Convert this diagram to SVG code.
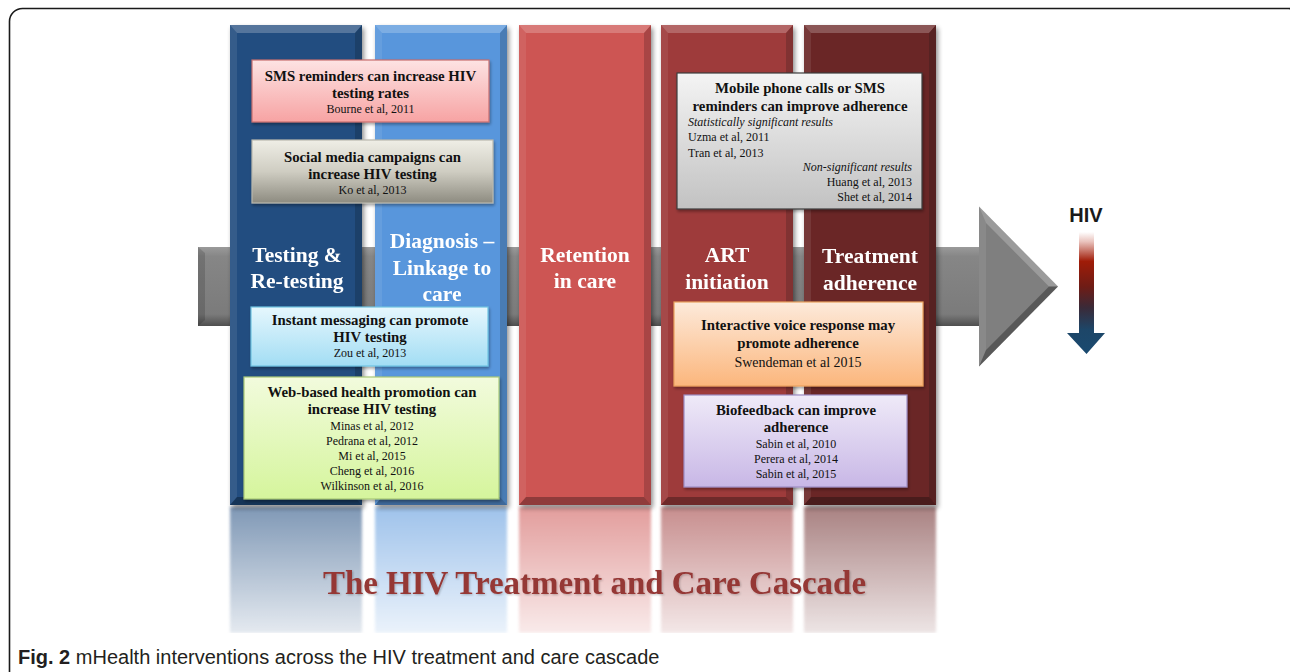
<svg xmlns="http://www.w3.org/2000/svg" width="1290" height="672" viewBox="0 0 1290 672">
  <style>
    .frame { fill: #ffffff; stroke: #1a1a1a; stroke-width: 1.6; }
    .bev-top { fill: #ffffff; opacity: 0.22; }
    .bev-left { fill: #ffffff; opacity: 0.08; }
    .bev-right { fill: #000000; opacity: 0.18; }
    .bev-bot { fill: #000000; opacity: 0.3; }
    .coltitle { font-family: "Liberation Serif", "Times New Roman", serif; font-weight: bold; font-size: 21.5px; fill: #ffffff; text-anchor: middle; }
    .bh { font-family: "Liberation Serif", "Times New Roman", serif; font-weight: bold; font-size: 14.8px; fill: #111111; text-anchor: middle; }
    .cite { font-family: "Liberation Serif", "Times New Roman", serif; font-size: 12px; fill: #111111; text-anchor: middle; }
    .citel { font-family: "Liberation Serif", "Times New Roman", serif; font-size: 12px; fill: #111111; }
    .it { font-family: "Liberation Serif", "Times New Roman", serif; font-style: italic; font-size: 12px; fill: #111111; }
    .box { stroke-width: 1.2; filter: url(#boxshadow); }
    .title { font-family: "Liberation Serif", "Times New Roman", serif; font-weight: bold; font-size: 34px; fill: #953735; text-anchor: middle; }
    .caption { font-family: "Liberation Sans", Arial, sans-serif; font-size: 20px; fill: #231f20; }
  </style>
  <defs>
    <filter id="colshadow" x="-10%" y="-5%" width="125%" height="112%">
      <feGaussianBlur in="SourceAlpha" stdDeviation="2.5"/>
      <feOffset dx="2" dy="3" result="b"/>
      <feComponentTransfer><feFuncA type="linear" slope="0.45"/></feComponentTransfer>
      <feMerge><feMergeNode/><feMergeNode in="SourceGraphic"/></feMerge>
    </filter>
    <filter id="boxshadow" x="-5%" y="-10%" width="112%" height="125%">
      <feGaussianBlur in="SourceAlpha" stdDeviation="1.5"/>
      <feOffset dx="1" dy="2"/>
      <feComponentTransfer><feFuncA type="linear" slope="0.35"/></feComponentTransfer>
      <feMerge><feMergeNode/><feMergeNode in="SourceGraphic"/></feMerge>
    </filter>
    <filter id="soft" x="-5%" y="-5%" width="110%" height="110%">
      <feGaussianBlur stdDeviation="1.6"/>
    </filter>
    <filter id="textglow" x="-5%" y="-20%" width="110%" height="140%">
      <feGaussianBlur in="SourceAlpha" stdDeviation="0.8"/>
      <feOffset dx="0.8" dy="0.8"/>
      <feComponentTransfer><feFuncA type="linear" slope="0.25"/></feComponentTransfer>
      <feMerge><feMergeNode/><feMergeNode in="SourceGraphic"/></feMerge>
    </filter>
    <linearGradient id="fadeGrad" x1="0" y1="0" x2="0" y2="1">
      <stop offset="0" stop-color="#ffffff" stop-opacity="0.58"/>
      <stop offset="1" stop-color="#ffffff" stop-opacity="0.12"/>
    </linearGradient>
    <mask id="fade" maskUnits="userSpaceOnUse" x="200" y="500" width="760" height="140">
      <rect x="200" y="506" width="760" height="127" fill="url(#fadeGrad)"/>
    </mask>
    <linearGradient id="arrowBody" x1="0" y1="0" x2="0" y2="1">
      <stop offset="0" stop-color="#9a9a9a"/>
      <stop offset="0.12" stop-color="#868686"/>
      <stop offset="0.85" stop-color="#7b7b7b"/>
      <stop offset="1" stop-color="#4f4f4f"/>
    </linearGradient>
    <linearGradient id="hivGrad" x1="0" y1="232" x2="0" y2="354" gradientUnits="userSpaceOnUse">
      <stop offset="0" stop-color="#ffffff"/>
      <stop offset="0.08" stop-color="#e9c2bc"/>
      <stop offset="0.24" stop-color="#a01c08"/>
      <stop offset="0.45" stop-color="#6e1c16"/>
      <stop offset="0.62" stop-color="#3a2a38"/>
      <stop offset="0.8" stop-color="#1d4668"/>
      <stop offset="1" stop-color="#1a4a70"/>
    </linearGradient>
    <linearGradient id="gPink" x1="0" y1="0" x2="0" y2="1">
      <stop offset="0" stop-color="#fde3e3"/>
      <stop offset="1" stop-color="#f7a3a3"/>
    </linearGradient>
    <linearGradient id="gBeige" x1="0" y1="0" x2="0" y2="1">
      <stop offset="0" stop-color="#efeee6"/>
      <stop offset="0.5" stop-color="#cfcdc2"/>
      <stop offset="1" stop-color="#8d8b80"/>
    </linearGradient>
    <linearGradient id="gGray" x1="0" y1="0" x2="0" y2="1">
      <stop offset="0" stop-color="#f4f4f4"/>
      <stop offset="1" stop-color="#c2c2c2"/>
    </linearGradient>
    <linearGradient id="gCyan" x1="0" y1="0" x2="0" y2="1">
      <stop offset="0" stop-color="#e6f7fd"/>
      <stop offset="1" stop-color="#a2ddf4"/>
    </linearGradient>
    <linearGradient id="gLime" x1="0" y1="0" x2="0" y2="1">
      <stop offset="0" stop-color="#f2fbdd"/>
      <stop offset="1" stop-color="#d5f59c"/>
    </linearGradient>
    <linearGradient id="gOrange" x1="0" y1="0" x2="0" y2="1">
      <stop offset="0" stop-color="#fdeadb"/>
      <stop offset="1" stop-color="#fbb67c"/>
    </linearGradient>
    <linearGradient id="gLilac" x1="0" y1="0" x2="0" y2="1">
      <stop offset="0" stop-color="#efeaf8"/>
      <stop offset="1" stop-color="#c8b7e6"/>
    </linearGradient>
  </defs>

  <!-- outer frame -->
  <rect class="frame" x="9.5" y="8.5" width="1292" height="700" rx="13"/>

  <!-- mirrored reflections under the columns -->
  <g id="reflections" mask="url(#fade)" filter="url(#soft)">
    <rect x="230" y="507" width="132" height="126" fill="#244e80"/>
    <rect x="375" y="507" width="132" height="126" fill="#5896dc"/>
    <rect x="519" y="507" width="132" height="126" fill="#cd5553"/>
    <rect x="661" y="507" width="132" height="126" fill="#9e3b3b"/>
    <rect x="804" y="507" width="132" height="126" fill="#6b2828"/>
  </g>

  <!-- connectors: the cascade arrow and the HIV arrow -->
  <g id="connectors">
    <g id="cascade-arrow">
      <rect x="198" y="247" width="790" height="79" fill="url(#arrowBody)"/>
      <polygon points="198,247 205,253 205,320 198,326" fill="#000" opacity="0.15"/>
      <polygon points="979,206.5 1058,286.5 979,366.5" fill="#7f7f7f"/>
      <polygon points="979,206.5 1058,286.5 1049,286.5 986,223" fill="#ffffff" opacity="0.22"/>
      <polygon points="1058,286.5 979,366.5 986,350 1049,286.5" fill="#000000" opacity="0.3"/>
      <polygon points="979,206.5 986,223 986,350 979,366.5" fill="#ffffff" opacity="0.08"/>
    </g>
    <g id="hiv-arrow">
      <polygon points="1079,232 1094,232 1094,333 1105,333 1086.5,354 1067,333 1079,333" fill="url(#hivGrad)"/>
    </g>
  </g>

  <!-- stage columns -->
  <g id="col-testing" filter="url(#colshadow)">
    <rect x="230" y="25" width="132" height="480" fill="#244e80"/>
    <polygon class="bev-top" points="230,25 362,25 355,33 237,33"/>
    <polygon class="bev-left" points="230,25 237,33 237,497 230,505"/>
    <polygon class="bev-right" points="362,25 355,33 355,497 362,505"/>
    <polygon class="bev-bot" points="230,505 237,497 355,497 362,505"/>
    <text class="coltitle" x="297" y="262">Testing &amp;</text>
    <text class="coltitle" x="297" y="288">Re-testing</text>
  </g>
  <g id="col-diagnosis" filter="url(#colshadow)">
    <rect x="375" y="25" width="132" height="480" fill="#5896dc"/>
    <polygon class="bev-top" points="375,25 507,25 500,33 382,33"/>
    <polygon class="bev-left" points="375,25 382,33 382,497 375,505"/>
    <polygon class="bev-right" points="507,25 500,33 500,497 507,505"/>
    <polygon class="bev-bot" points="375,505 382,497 500,497 507,505"/>
    <text class="coltitle" x="442" y="248">Diagnosis –</text>
    <text class="coltitle" x="442" y="275">Linkage to</text>
    <text class="coltitle" x="442" y="301">care</text>
  </g>
  <g id="col-retention" filter="url(#colshadow)">
    <rect x="519" y="25" width="132" height="480" fill="#cd5553"/>
    <polygon class="bev-top" points="519,25 651,25 644,33 526,33"/>
    <polygon class="bev-left" points="519,25 526,33 526,497 519,505"/>
    <polygon class="bev-right" points="651,25 644,33 644,497 651,505"/>
    <polygon class="bev-bot" points="519,505 526,497 644,497 651,505"/>
    <text class="coltitle" x="585" y="262">Retention</text>
    <text class="coltitle" x="585" y="288">in care</text>
  </g>
  <g id="col-art" filter="url(#colshadow)">
    <rect x="661" y="25" width="132" height="480" fill="#9e3b3b"/>
    <polygon class="bev-top" points="661,25 793,25 786,33 668,33"/>
    <polygon class="bev-left" points="661,25 668,33 668,497 661,505"/>
    <polygon class="bev-right" points="793,25 786,33 786,497 793,505"/>
    <polygon class="bev-bot" points="661,505 668,497 786,497 793,505"/>
    <text class="coltitle" x="727" y="262">ART</text>
    <text class="coltitle" x="727" y="289">initiation</text>
  </g>
  <g id="col-adherence" filter="url(#colshadow)">
    <rect x="804" y="25" width="132" height="480" fill="#6b2828"/>
    <polygon class="bev-top" points="804,25 936,25 929,33 811,33"/>
    <polygon class="bev-left" points="804,25 811,33 811,497 804,505"/>
    <polygon class="bev-right" points="936,25 929,33 929,497 936,505"/>
    <polygon class="bev-bot" points="804,505 811,497 929,497 936,505"/>
    <text class="coltitle" x="870" y="263">Treatment</text>
    <text class="coltitle" x="870" y="290">adherence</text>
  </g>

  <!-- intervention boxes -->
  <g id="box-sms">
    <rect class="box" x="252" y="60" width="237" height="62" fill="url(#gPink)" stroke="#c96f6f"/>
    <text class="bh" x="370.5" y="81">SMS reminders can increase HIV</text>
    <text class="bh" x="370.5" y="98">testing rates</text>
    <text class="cite" x="370.5" y="113">Bourne et al, 2011</text>
  </g>
  <g id="box-social">
    <rect class="box" x="252" y="140" width="241" height="63" fill="url(#gBeige)" stroke="#b9b8ae"/>
    <text class="bh" x="372.5" y="162">Social media campaigns can</text>
    <text class="bh" x="372.5" y="179">increase HIV testing</text>
    <text class="cite" x="372.5" y="194">Ko et al, 2013</text>
  </g>
  <g id="box-mobile">
    <rect class="box" x="677" y="73" width="245" height="136" fill="url(#gGray)" stroke="#3c3c3c"/>
    <text class="bh" x="800" y="93">Mobile phone calls or SMS</text>
    <text class="bh" x="800" y="111">reminders can improve adherence</text>
    <text class="it" x="688" y="126">Statistically significant results</text>
    <text class="citel" x="688" y="141">Uzma et al, 2011</text>
    <text class="citel" x="688" y="157">Tran et al, 2013</text>
    <text class="it" x="912" y="171" text-anchor="end">Non-significant results</text>
    <text class="citel" x="912" y="186" text-anchor="end">Huang et al, 2013</text>
    <text class="citel" x="912" y="201" text-anchor="end">Shet et al, 2014</text>
  </g>
  <g id="box-instant">
    <rect class="box" x="251" y="307" width="237" height="59" fill="url(#gCyan)" stroke="#6fc4e2"/>
    <text class="bh" x="370" y="325">Instant messaging can promote</text>
    <text class="bh" x="370" y="342">HIV testing</text>
    <text class="cite" x="370" y="357">Zou et al, 2013</text>
  </g>
  <g id="box-web">
    <rect class="box" x="244" y="377" width="255" height="122" fill="url(#gLime)" stroke="#a9c977"/>
    <text class="bh" x="372" y="397">Web-based health promotion can</text>
    <text class="bh" x="372" y="414">increase HIV testing</text>
    <text class="cite" x="372" y="430">Minas et al, 2012</text>
    <text class="cite" x="372" y="445">Pedrana et al, 2012</text>
    <text class="cite" x="372" y="460">Mi et al, 2015</text>
    <text class="cite" x="372" y="475">Cheng et al, 2016</text>
    <text class="cite" x="372" y="490">Wilkinson et al, 2016</text>
  </g>
  <g id="box-ivr">
    <rect class="box" x="674" y="302" width="249" height="84" fill="url(#gOrange)" stroke="#eaa15e"/>
    <text class="bh" x="798" y="330">Interactive voice response may</text>
    <text class="bh" x="798" y="348">promote adherence</text>
    <text class="cite" x="798" y="367" style="font-size:14px">Swendeman et al 2015</text>
  </g>
  <g id="box-biofeedback">
    <rect class="box" x="684" y="395" width="223" height="92" fill="url(#gLilac)" stroke="#9d8cc4"/>
    <text class="bh" x="796" y="415">Biofeedback can improve</text>
    <text class="bh" x="796" y="432">adherence</text>
    <text class="cite" x="796" y="448">Sabin et al, 2010</text>
    <text class="cite" x="796" y="463">Perera et al, 2014</text>
    <text class="cite" x="796" y="478">Sabin et al, 2015</text>
  </g>

  <!-- HIV label -->
  <g id="hiv-label">
    <text x="1086" y="222" text-anchor="middle" style="font-family:'Liberation Sans',Arial,sans-serif;font-weight:bold;font-size:20px;fill:#1a1a1a">HIV</text>
  </g>

  <!-- cascade title -->
  <g id="cascade-title">
    <text class="title" x="594.5" y="594" textLength="543" lengthAdjust="spacingAndGlyphs" filter="url(#textglow)">The HIV Treatment and Care Cascade</text>
  </g>

  <!-- figure caption -->
  <g id="caption">
    <text class="caption" x="18" y="664"><tspan font-weight="bold">Fig. 2</tspan> mHealth interventions across the HIV treatment and care cascade</text>
  </g>
</svg>
